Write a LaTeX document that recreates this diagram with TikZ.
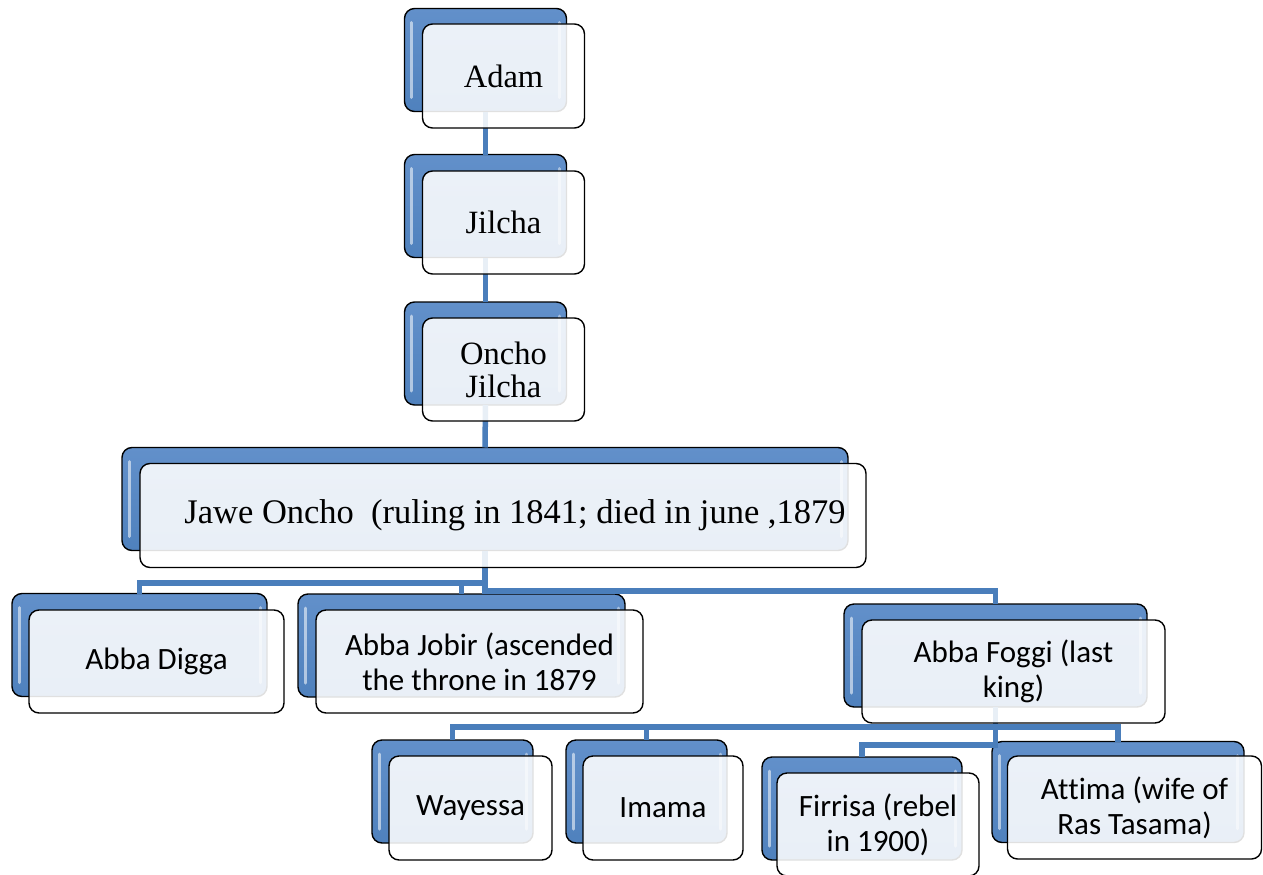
\documentclass[tikz,border=0pt]{standalone}
\usepackage{fontspec}
\setmainfont{Liberation Serif}
\newfontfamily\sansfam[Ligatures={NoCommon,NoContextual}]{Carlito}
\definecolor{boxblue}{RGB}{79,129,189}
\definecolor{boxbluelight}{RGB}{98,144,202}
\definecolor{linkblue}{RGB}{74,126,187}
\begin{document}
\begin{tikzpicture}[x=1pt,y=-1pt,
  backbox/.style={rectangle, rounded corners=10pt, draw=black, line width=1.4pt,
    top color=boxbluelight, bottom color=boxblue, inner sep=0pt, outer sep=0pt,
    path picture={
      \draw[white, opacity=0.55, line width=3pt, line cap=round]
        ([xshift=7pt,yshift=-14pt]path picture bounding box.north west) --
        ([xshift=7pt,yshift=14pt]path picture bounding box.south west);
      \draw[white, opacity=0.45, line width=3pt, line cap=round]
        ([xshift=-7pt,yshift=-14pt]path picture bounding box.north east) --
        ([xshift=-7pt,yshift=14pt]path picture bounding box.south east);
    }},
  frontbox/.style={rectangle, rounded corners=10pt, draw=black, line width=1.4pt,
    fill=white, fill opacity=0.88, text opacity=1, inner sep=0pt, outer sep=0pt,
    align=center},
  serif/.style={font=\fontsize{32.5}{33}\selectfont},
  sans/.style={font=\sansfam\fontsize{31}{35}\selectfont},
  link/.style={draw=linkblue, line width=5.5pt}]

\useasboundingbox (0,0) rectangle (1263,875);
\fill[white] (0,0) rectangle (1263,875);

% back boxes
\node[backbox, minimum width=162pt, minimum height=103pt] (adamB) at (485.5,60) {};
\node[backbox, minimum width=162pt, minimum height=103pt] (jilB) at (485.5,206) {};
\node[backbox, minimum width=162pt, minimum height=103pt] (onchoB) at (485.5,353.5) {};
\node[backbox, minimum width=726pt, minimum height=103pt] (jaweB) at (485,499) {};
\node[backbox, minimum width=255pt, minimum height=103pt] (diggaB) at (139.5,645) {};
\node[backbox, minimum width=327pt, minimum height=103pt] (jobirB) at (461.5,645.5) {};
\node[backbox, minimum width=303pt, minimum height=103pt] (foggiB) at (995.5,655.5) {};
\node[backbox, minimum width=161pt, minimum height=103pt] (wayB) at (452.5,791.5) {};
\node[backbox, minimum width=161pt, minimum height=103pt] (imaB) at (646.5,791.5) {};
\node[backbox, minimum width=200pt, minimum height=103pt] (firB) at (862,808.5) {};
\node[backbox, minimum width=252pt, minimum height=101pt] (attB) at (1118,792) {};

% bus coordinates
\coordinate (busA) at (0,583);
\coordinate (busB) at (0,591);
\coordinate (busC) at (0,727);
\coordinate (busD) at (0,745);

% connectors
\draw[link] (adamB.south) -- (jilB.north);
\draw[link] (jilB.south) -- (onchoB.north);
\draw[link] (onchoB.south) -- (jaweB.north);
\draw[link] (jaweB.south) -- (jaweB.south |- busA) -| (diggaB.north);
\draw[link] (jaweB.south) -- (jaweB.south |- busA) -| (jobirB.north);
\draw[link] (jaweB.south) -- (jaweB.south |- busB) -| (foggiB.north);
\draw[link] (foggiB.south) -- (foggiB.south |- busC) -| (wayB.north);
\draw[link] (foggiB.south) -- (foggiB.south |- busC) -| (imaB.north);
\draw[link] (foggiB.south) -- (foggiB.south |- busC) -| (attB.north);
\draw[link] (foggiB.south) -- (foggiB.south |- busD) -| (firB.north);

% front boxes
\node[frontbox, serif, minimum width=162pt, minimum height=104pt] (adam) at (503.5,76) {Adam};
\node[frontbox, serif, minimum width=162pt, minimum height=103pt] (jil) at (503.5,222.5) {Jilcha};
\node[frontbox, serif, minimum width=162pt, minimum height=103pt] (oncho) at (503.5,369.5) {Oncho\\Jilcha};
\node[frontbox, font=\fontsize{34.5}{36}\selectfont, minimum width=726pt, minimum height=104pt] (jawe) at (503,515.5)
  {\hspace*{24pt}Jawe Oncho\ \ (ruling in 1841; died in june ,1879};
\node[frontbox, sans, minimum width=255pt, minimum height=103pt] (digga) at (156.5,661.5) {Abba Digga};
\node[frontbox, sans, minimum width=327pt, minimum height=103pt] (jobir) at (479.5,661.5) {Abba Jobir (ascended\\the throne in 1879};
\node[frontbox, sans, minimum width=303pt, minimum height=103pt] (foggi) at (1013.5,671.5) {Abba Foggi (last\\king)};
\node[frontbox, sans, minimum width=163pt, minimum height=104pt] (way) at (470.5,808) {Wayessa};
\node[frontbox, sans, minimum width=160pt, minimum height=104pt] (ima) at (663,808) {Imama};
\node[frontbox, sans, minimum width=202pt, minimum height=103pt] (fir) at (878,824.5) {Firrisa (rebel\\in 1900)};
\node[frontbox, sans, minimum width=254pt, minimum height=103pt] (att) at (1134.5,807.5) {At\kern0ptt\kern0pti\kern0ptma (wife of\\Ras Tasama)};
\end{tikzpicture}
\end{document}
